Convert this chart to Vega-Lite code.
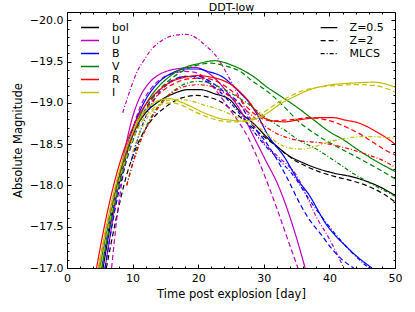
{
"$schema": "https://vega.github.io/schema/vega-lite/v6.json",
"width": 328, "height": 256,
"autosize": "none",
"padding": {"left": 67, "top": 12, "right": 20, "bottom": 44},
"config": {"font": "DejaVu Sans", "view": {"stroke": "black", "strokeWidth": 1}},
"data": {"values": [
{"t":5.5,"M":-17.0,"band":"bol","model":"Z=0.5"},{"t":7,"M":-17.68,"band":"bol","model":"Z=0.5"},{"t":8.5,"M":-18.2,"band":"bol","model":"Z=0.5"},{"t":10,"M":-18.6,"band":"bol","model":"Z=0.5"},{"t":12,"M":-18.88,"band":"bol","model":"Z=0.5"},{"t":13.7,"M":-19.0,"band":"bol","model":"Z=0.5"},{"t":16.2,"M":-19.11,"band":"bol","model":"Z=0.5"},{"t":18.5,"M":-19.16,"band":"bol","model":"Z=0.5"},{"t":20.3,"M":-19.16,"band":"bol","model":"Z=0.5"},{"t":22.5,"M":-19.11,"band":"bol","model":"Z=0.5"},{"t":24.8,"M":-19.04,"band":"bol","model":"Z=0.5"},{"t":26.5,"M":-18.88,"band":"bol","model":"Z=0.5"},{"t":28.7,"M":-18.73,"band":"bol","model":"Z=0.5"},{"t":30.5,"M":-18.58,"band":"bol","model":"Z=0.5"},{"t":32.2,"M":-18.46,"band":"bol","model":"Z=0.5"},{"t":34,"M":-18.35,"band":"bol","model":"Z=0.5"},{"t":35.8,"M":-18.28,"band":"bol","model":"Z=0.5"},{"t":38,"M":-18.21,"band":"bol","model":"Z=0.5"},{"t":40.6,"M":-18.15,"band":"bol","model":"Z=0.5"},{"t":43.7,"M":-18.1,"band":"bol","model":"Z=0.5"},{"t":46,"M":-18.04,"band":"bol","model":"Z=0.5"},{"t":48,"M":-17.97,"band":"bol","model":"Z=0.5"},{"t":50,"M":-17.88,"band":"bol","model":"Z=0.5"},
{"t":6.0,"M":-17.0,"band":"bol","model":"Z=2"},{"t":7.5,"M":-17.6,"band":"bol","model":"Z=2"},{"t":9,"M":-18.1,"band":"bol","model":"Z=2"},{"t":10.5,"M":-18.45,"band":"bol","model":"Z=2"},{"t":12.5,"M":-18.75,"band":"bol","model":"Z=2"},{"t":15.2,"M":-18.96,"band":"bol","model":"Z=2"},{"t":17.5,"M":-19.06,"band":"bol","model":"Z=2"},{"t":19.8,"M":-19.09,"band":"bol","model":"Z=2"},{"t":21.5,"M":-19.07,"band":"bol","model":"Z=2"},{"t":23.3,"M":-19.02,"band":"bol","model":"Z=2"},{"t":25.6,"M":-18.88,"band":"bol","model":"Z=2"},{"t":27.7,"M":-18.74,"band":"bol","model":"Z=2"},{"t":29.7,"M":-18.61,"band":"bol","model":"Z=2"},{"t":31.5,"M":-18.5,"band":"bol","model":"Z=2"},{"t":33.2,"M":-18.39,"band":"bol","model":"Z=2"},{"t":35,"M":-18.29,"band":"bol","model":"Z=2"},{"t":36.5,"M":-18.23,"band":"bol","model":"Z=2"},{"t":38.3,"M":-18.17,"band":"bol","model":"Z=2"},{"t":41.2,"M":-18.1,"band":"bol","model":"Z=2"},{"t":43.7,"M":-18.05,"band":"bol","model":"Z=2"},{"t":46.2,"M":-17.98,"band":"bol","model":"Z=2"},{"t":48.2,"M":-17.9,"band":"bol","model":"Z=2"},{"t":50,"M":-17.8,"band":"bol","model":"Z=2"},
{"t":5.8,"M":-17.0,"band":"U","model":"Z=0.5"},{"t":7,"M":-17.6,"band":"U","model":"Z=0.5"},{"t":8,"M":-18.1,"band":"U","model":"Z=0.5"},{"t":9,"M":-18.5,"band":"U","model":"Z=0.5"},{"t":10,"M":-18.83,"band":"U","model":"Z=0.5"},{"t":11,"M":-19.05,"band":"U","model":"Z=0.5"},{"t":12.5,"M":-19.24,"band":"U","model":"Z=0.5"},{"t":14,"M":-19.34,"band":"U","model":"Z=0.5"},{"t":15.5,"M":-19.39,"band":"U","model":"Z=0.5"},{"t":17.5,"M":-19.42,"band":"U","model":"Z=0.5"},{"t":19.5,"M":-19.43,"band":"U","model":"Z=0.5"},{"t":21,"M":-19.39,"band":"U","model":"Z=0.5"},{"t":22.5,"M":-19.3,"band":"U","model":"Z=0.5"},{"t":24.4,"M":-19.13,"band":"U","model":"Z=0.5"},{"t":26.5,"M":-18.9,"band":"U","model":"Z=0.5"},{"t":28.4,"M":-18.6,"band":"U","model":"Z=0.5"},{"t":30.3,"M":-18.3,"band":"U","model":"Z=0.5"},{"t":32.2,"M":-18.0,"band":"U","model":"Z=0.5"},{"t":33.5,"M":-17.73,"band":"U","model":"Z=0.5"},{"t":35,"M":-17.36,"band":"U","model":"Z=0.5"},{"t":36.3,"M":-17.0,"band":"U","model":"Z=0.5"},
{"t":6.8,"M":-17.0,"band":"U","model":"Z=2"},{"t":7.6,"M":-17.6,"band":"U","model":"Z=2"},{"t":8.6,"M":-18.15,"band":"U","model":"Z=2"},{"t":9.6,"M":-18.55,"band":"U","model":"Z=2"},{"t":11,"M":-18.92,"band":"U","model":"Z=2"},{"t":12.5,"M":-19.14,"band":"U","model":"Z=2"},{"t":14,"M":-19.27,"band":"U","model":"Z=2"},{"t":16,"M":-19.35,"band":"U","model":"Z=2"},{"t":18,"M":-19.38,"band":"U","model":"Z=2"},{"t":19.5,"M":-19.37,"band":"U","model":"Z=2"},{"t":21,"M":-19.3,"band":"U","model":"Z=2"},{"t":23,"M":-19.12,"band":"U","model":"Z=2"},{"t":25,"M":-18.9,"band":"U","model":"Z=2"},{"t":27.6,"M":-18.58,"band":"U","model":"Z=2"},{"t":29.2,"M":-18.3,"band":"U","model":"Z=2"},{"t":30.7,"M":-18.0,"band":"U","model":"Z=2"},{"t":32,"M":-17.72,"band":"U","model":"Z=2"},{"t":33.5,"M":-17.38,"band":"U","model":"Z=2"},{"t":35.2,"M":-17.0,"band":"U","model":"Z=2"},
{"t":8.5,"M":-18.88,"band":"U","model":"MLCS"},{"t":9.6,"M":-19.15,"band":"U","model":"MLCS"},{"t":10.7,"M":-19.38,"band":"U","model":"MLCS"},{"t":11.6,"M":-19.5,"band":"U","model":"MLCS"},{"t":12.7,"M":-19.63,"band":"U","model":"MLCS"},{"t":14.2,"M":-19.74,"band":"U","model":"MLCS"},{"t":16,"M":-19.81,"band":"U","model":"MLCS"},{"t":18.2,"M":-19.83,"band":"U","model":"MLCS"},{"t":20,"M":-19.77,"band":"U","model":"MLCS"},{"t":21.3,"M":-19.68,"band":"U","model":"MLCS"},{"t":22.4,"M":-19.6,"band":"U","model":"MLCS"},{"t":23.3,"M":-19.5,"band":"U","model":"MLCS"},{"t":24.8,"M":-19.29,"band":"U","model":"MLCS"},{"t":26.4,"M":-19.05,"band":"U","model":"MLCS"},{"t":28,"M":-18.8,"band":"U","model":"MLCS"},{"t":30,"M":-18.52,"band":"U","model":"MLCS"},{"t":32,"M":-18.36,"band":"U","model":"MLCS"},{"t":35,"M":-18.12,"band":"U","model":"MLCS"},{"t":38,"M":-17.62,"band":"U","model":"MLCS"},{"t":40,"M":-17.35,"band":"U","model":"MLCS"},{"t":42.2,"M":-17.0,"band":"U","model":"MLCS"},
{"t":5.3,"M":-17.0,"band":"B","model":"Z=0.5"},{"t":7,"M":-17.75,"band":"B","model":"Z=0.5"},{"t":8.5,"M":-18.28,"band":"B","model":"Z=0.5"},{"t":10,"M":-18.68,"band":"B","model":"Z=0.5"},{"t":12,"M":-19.04,"band":"B","model":"Z=0.5"},{"t":14,"M":-19.25,"band":"B","model":"Z=0.5"},{"t":16,"M":-19.36,"band":"B","model":"Z=0.5"},{"t":18,"M":-19.41,"band":"B","model":"Z=0.5"},{"t":20,"M":-19.41,"band":"B","model":"Z=0.5"},{"t":21.5,"M":-19.38,"band":"B","model":"Z=0.5"},{"t":23.8,"M":-19.31,"band":"B","model":"Z=0.5"},{"t":25.4,"M":-19.2,"band":"B","model":"Z=0.5"},{"t":26.4,"M":-19.12,"band":"B","model":"Z=0.5"},{"t":27.6,"M":-19.02,"band":"B","model":"Z=0.5"},{"t":28.9,"M":-18.87,"band":"B","model":"Z=0.5"},{"t":30.7,"M":-18.6,"band":"B","model":"Z=0.5"},{"t":33,"M":-18.36,"band":"B","model":"Z=0.5"},{"t":35.5,"M":-18.03,"band":"B","model":"Z=0.5"},{"t":36.6,"M":-17.92,"band":"B","model":"Z=0.5"},{"t":39.6,"M":-17.52,"band":"B","model":"Z=0.5"},{"t":42.7,"M":-17.25,"band":"B","model":"Z=0.5"},{"t":44.5,"M":-17.12,"band":"B","model":"Z=0.5"},{"t":46.5,"M":-17.0,"band":"B","model":"Z=0.5"},
{"t":5.8,"M":-17.0,"band":"B","model":"Z=2"},{"t":7.3,"M":-17.7,"band":"B","model":"Z=2"},{"t":8.8,"M":-18.22,"band":"B","model":"Z=2"},{"t":10.3,"M":-18.6,"band":"B","model":"Z=2"},{"t":12,"M":-18.93,"band":"B","model":"Z=2"},{"t":14,"M":-19.15,"band":"B","model":"Z=2"},{"t":16,"M":-19.27,"band":"B","model":"Z=2"},{"t":18,"M":-19.32,"band":"B","model":"Z=2"},{"t":20,"M":-19.32,"band":"B","model":"Z=2"},{"t":22,"M":-19.25,"band":"B","model":"Z=2"},{"t":24,"M":-19.13,"band":"B","model":"Z=2"},{"t":26.4,"M":-18.98,"band":"B","model":"Z=2"},{"t":28.2,"M":-18.74,"band":"B","model":"Z=2"},{"t":30,"M":-18.56,"band":"B","model":"Z=2"},{"t":31.5,"M":-18.38,"band":"B","model":"Z=2"},{"t":33.5,"M":-18.1,"band":"B","model":"Z=2"},{"t":35.5,"M":-17.78,"band":"B","model":"Z=2"},{"t":37,"M":-17.58,"band":"B","model":"Z=2"},{"t":38.6,"M":-17.42,"band":"B","model":"Z=2"},{"t":40.5,"M":-17.22,"band":"B","model":"Z=2"},{"t":41.7,"M":-17.12,"band":"B","model":"Z=2"},{"t":43.7,"M":-17.0,"band":"B","model":"Z=2"},
{"t":9.8,"M":-18.3,"band":"B","model":"MLCS"},{"t":11,"M":-18.62,"band":"B","model":"MLCS"},{"t":12.5,"M":-18.92,"band":"B","model":"MLCS"},{"t":14,"M":-19.12,"band":"B","model":"MLCS"},{"t":16,"M":-19.26,"band":"B","model":"MLCS"},{"t":18,"M":-19.32,"band":"B","model":"MLCS"},{"t":20,"M":-19.3,"band":"B","model":"MLCS"},{"t":22,"M":-19.22,"band":"B","model":"MLCS"},{"t":24,"M":-19.08,"band":"B","model":"MLCS"},{"t":26,"M":-18.9,"band":"B","model":"MLCS"},{"t":28,"M":-18.7,"band":"B","model":"MLCS"},{"t":30,"M":-18.5,"band":"B","model":"MLCS"},{"t":32.2,"M":-18.32,"band":"B","model":"MLCS"},{"t":34.5,"M":-18.12,"band":"B","model":"MLCS"},{"t":37,"M":-17.82,"band":"B","model":"MLCS"},{"t":39.5,"M":-17.55,"band":"B","model":"MLCS"},{"t":42.1,"M":-17.3,"band":"B","model":"MLCS"},{"t":44.7,"M":-17.09,"band":"B","model":"MLCS"},{"t":46,"M":-17.0,"band":"B","model":"MLCS"},
{"t":5.0,"M":-17.0,"band":"V","model":"Z=0.5"},{"t":6.5,"M":-17.6,"band":"V","model":"Z=0.5"},{"t":8,"M":-18.12,"band":"V","model":"Z=0.5"},{"t":10,"M":-18.62,"band":"V","model":"Z=0.5"},{"t":12,"M":-18.98,"band":"V","model":"Z=0.5"},{"t":14,"M":-19.2,"band":"V","model":"Z=0.5"},{"t":16,"M":-19.34,"band":"V","model":"Z=0.5"},{"t":18,"M":-19.43,"band":"V","model":"Z=0.5"},{"t":19.8,"M":-19.47,"band":"V","model":"Z=0.5"},{"t":22.5,"M":-19.51,"band":"V","model":"Z=0.5"},{"t":25.3,"M":-19.45,"band":"V","model":"Z=0.5"},{"t":28.4,"M":-19.32,"band":"V","model":"Z=0.5"},{"t":30.5,"M":-19.19,"band":"V","model":"Z=0.5"},{"t":32.2,"M":-19.1,"band":"V","model":"Z=0.5"},{"t":35,"M":-18.95,"band":"V","model":"Z=0.5"},{"t":37.5,"M":-18.8,"band":"V","model":"Z=0.5"},{"t":40,"M":-18.65,"band":"V","model":"Z=0.5"},{"t":42.2,"M":-18.55,"band":"V","model":"Z=0.5"},{"t":44,"M":-18.45,"band":"V","model":"Z=0.5"},{"t":47,"M":-18.3,"band":"V","model":"Z=0.5"},{"t":50,"M":-18.17,"band":"V","model":"Z=0.5"},
{"t":5.3,"M":-17.0,"band":"V","model":"Z=2"},{"t":6.8,"M":-17.6,"band":"V","model":"Z=2"},{"t":8.3,"M":-18.1,"band":"V","model":"Z=2"},{"t":10,"M":-18.55,"band":"V","model":"Z=2"},{"t":12,"M":-18.92,"band":"V","model":"Z=2"},{"t":14,"M":-19.15,"band":"V","model":"Z=2"},{"t":16,"M":-19.3,"band":"V","model":"Z=2"},{"t":18,"M":-19.4,"band":"V","model":"Z=2"},{"t":20,"M":-19.46,"band":"V","model":"Z=2"},{"t":22,"M":-19.48,"band":"V","model":"Z=2"},{"t":24,"M":-19.45,"band":"V","model":"Z=2"},{"t":26.4,"M":-19.38,"band":"V","model":"Z=2"},{"t":28.5,"M":-19.25,"band":"V","model":"Z=2"},{"t":30,"M":-19.17,"band":"V","model":"Z=2"},{"t":31.7,"M":-19.06,"band":"V","model":"Z=2"},{"t":33,"M":-18.96,"band":"V","model":"Z=2"},{"t":35.5,"M":-18.76,"band":"V","model":"Z=2"},{"t":38.3,"M":-18.6,"band":"V","model":"Z=2"},{"t":41.6,"M":-18.45,"band":"V","model":"Z=2"},{"t":44,"M":-18.35,"band":"V","model":"Z=2"},{"t":47,"M":-18.22,"band":"V","model":"Z=2"},{"t":50,"M":-18.08,"band":"V","model":"Z=2"},
{"t":9.1,"M":-18.0,"band":"V","model":"MLCS"},{"t":10.5,"M":-18.4,"band":"V","model":"MLCS"},{"t":12,"M":-18.7,"band":"V","model":"MLCS"},{"t":14,"M":-18.97,"band":"V","model":"MLCS"},{"t":16,"M":-19.13,"band":"V","model":"MLCS"},{"t":18,"M":-19.23,"band":"V","model":"MLCS"},{"t":20,"M":-19.26,"band":"V","model":"MLCS"},{"t":22,"M":-19.23,"band":"V","model":"MLCS"},{"t":24,"M":-19.16,"band":"V","model":"MLCS"},{"t":26,"M":-19.07,"band":"V","model":"MLCS"},{"t":27.4,"M":-19.0,"band":"V","model":"MLCS"},{"t":29,"M":-18.9,"band":"V","model":"MLCS"},{"t":30.7,"M":-18.8,"band":"V","model":"MLCS"},{"t":33,"M":-18.68,"band":"V","model":"MLCS"},{"t":35.5,"M":-18.54,"band":"V","model":"MLCS"},{"t":37.8,"M":-18.45,"band":"V","model":"MLCS"},{"t":39.6,"M":-18.36,"band":"V","model":"MLCS"},{"t":41.5,"M":-18.26,"band":"V","model":"MLCS"},{"t":43.7,"M":-18.14,"band":"V","model":"MLCS"},{"t":45.5,"M":-18.06,"band":"V","model":"MLCS"},{"t":47.3,"M":-17.98,"band":"V","model":"MLCS"},{"t":49.3,"M":-17.9,"band":"V","model":"MLCS"},{"t":50,"M":-17.87,"band":"V","model":"MLCS"},
{"t":4.5,"M":-17.0,"band":"R","model":"Z=0.5"},{"t":6,"M":-17.62,"band":"R","model":"Z=0.5"},{"t":7.5,"M":-18.12,"band":"R","model":"Z=0.5"},{"t":9,"M":-18.5,"band":"R","model":"Z=0.5"},{"t":10.5,"M":-18.78,"band":"R","model":"Z=0.5"},{"t":12,"M":-18.98,"band":"R","model":"Z=0.5"},{"t":14,"M":-19.15,"band":"R","model":"Z=0.5"},{"t":16,"M":-19.26,"band":"R","model":"Z=0.5"},{"t":18,"M":-19.31,"band":"R","model":"Z=0.5"},{"t":20,"M":-19.33,"band":"R","model":"Z=0.5"},{"t":22,"M":-19.31,"band":"R","model":"Z=0.5"},{"t":23.5,"M":-19.28,"band":"R","model":"Z=0.5"},{"t":25.4,"M":-19.2,"band":"R","model":"Z=0.5"},{"t":26.8,"M":-19.1,"band":"R","model":"Z=0.5"},{"t":27.9,"M":-19.0,"band":"R","model":"Z=0.5"},{"t":28.7,"M":-18.91,"band":"R","model":"Z=0.5"},{"t":29.6,"M":-18.84,"band":"R","model":"Z=0.5"},{"t":30.5,"M":-18.8,"band":"R","model":"Z=0.5"},{"t":31.5,"M":-18.78,"band":"R","model":"Z=0.5"},{"t":33.2,"M":-18.77,"band":"R","model":"Z=0.5"},{"t":35,"M":-18.79,"band":"R","model":"Z=0.5"},{"t":36.8,"M":-18.81,"band":"R","model":"Z=0.5"},{"t":38.5,"M":-18.82,"band":"R","model":"Z=0.5"},{"t":40.6,"M":-18.82,"band":"R","model":"Z=0.5"},{"t":42.5,"M":-18.79,"band":"R","model":"Z=0.5"},{"t":44.7,"M":-18.75,"band":"R","model":"Z=0.5"},{"t":46.5,"M":-18.68,"band":"R","model":"Z=0.5"},{"t":47.8,"M":-18.62,"band":"R","model":"Z=0.5"},{"t":49,"M":-18.56,"band":"R","model":"Z=0.5"},{"t":50,"M":-18.5,"band":"R","model":"Z=0.5"},
{"t":4.8,"M":-17.0,"band":"R","model":"Z=2"},{"t":6.3,"M":-17.6,"band":"R","model":"Z=2"},{"t":7.8,"M":-18.1,"band":"R","model":"Z=2"},{"t":9.3,"M":-18.47,"band":"R","model":"Z=2"},{"t":10.8,"M":-18.75,"band":"R","model":"Z=2"},{"t":12.5,"M":-18.97,"band":"R","model":"Z=2"},{"t":14.5,"M":-19.14,"band":"R","model":"Z=2"},{"t":16.5,"M":-19.24,"band":"R","model":"Z=2"},{"t":18.5,"M":-19.29,"band":"R","model":"Z=2"},{"t":20.5,"M":-19.3,"band":"R","model":"Z=2"},{"t":22.5,"M":-19.27,"band":"R","model":"Z=2"},{"t":24.5,"M":-19.18,"band":"R","model":"Z=2"},{"t":26,"M":-19.08,"band":"R","model":"Z=2"},{"t":27.3,"M":-18.96,"band":"R","model":"Z=2"},{"t":28.5,"M":-18.87,"band":"R","model":"Z=2"},{"t":30,"M":-18.8,"band":"R","model":"Z=2"},{"t":31.5,"M":-18.78,"band":"R","model":"Z=2"},{"t":33,"M":-18.79,"band":"R","model":"Z=2"},{"t":34.8,"M":-18.8,"band":"R","model":"Z=2"},{"t":36.5,"M":-18.82,"band":"R","model":"Z=2"},{"t":38.5,"M":-18.81,"band":"R","model":"Z=2"},{"t":40.6,"M":-18.77,"band":"R","model":"Z=2"},{"t":43,"M":-18.69,"band":"R","model":"Z=2"},{"t":44.5,"M":-18.63,"band":"R","model":"Z=2"},{"t":46.7,"M":-18.52,"band":"R","model":"Z=2"},{"t":48.5,"M":-18.43,"band":"R","model":"Z=2"},{"t":50,"M":-18.37,"band":"R","model":"Z=2"},
{"t":9.1,"M":-18.0,"band":"R","model":"MLCS"},{"t":10.5,"M":-18.38,"band":"R","model":"MLCS"},{"t":12,"M":-18.68,"band":"R","model":"MLCS"},{"t":14,"M":-18.95,"band":"R","model":"MLCS"},{"t":16,"M":-19.12,"band":"R","model":"MLCS"},{"t":18,"M":-19.2,"band":"R","model":"MLCS"},{"t":20,"M":-19.22,"band":"R","model":"MLCS"},{"t":22,"M":-19.2,"band":"R","model":"MLCS"},{"t":24,"M":-19.12,"band":"R","model":"MLCS"},{"t":26,"M":-19.0,"band":"R","model":"MLCS"},{"t":28,"M":-18.86,"band":"R","model":"MLCS"},{"t":30,"M":-18.73,"band":"R","model":"MLCS"},{"t":31.7,"M":-18.64,"band":"R","model":"MLCS"},{"t":33.5,"M":-18.58,"band":"R","model":"MLCS"},{"t":35.6,"M":-18.54,"band":"R","model":"MLCS"},{"t":38.3,"M":-18.52,"band":"R","model":"MLCS"},{"t":40.6,"M":-18.49,"band":"R","model":"MLCS"},{"t":43.1,"M":-18.44,"band":"R","model":"MLCS"},{"t":45.5,"M":-18.38,"band":"R","model":"MLCS"},{"t":48.2,"M":-18.3,"band":"R","model":"MLCS"},{"t":50,"M":-18.22,"band":"R","model":"MLCS"},
{"t":4.8,"M":-17.0,"band":"I","model":"Z=0.5"},{"t":6.3,"M":-17.62,"band":"I","model":"Z=0.5"},{"t":7.8,"M":-18.12,"band":"I","model":"Z=0.5"},{"t":9.3,"M":-18.5,"band":"I","model":"Z=0.5"},{"t":11,"M":-18.8,"band":"I","model":"Z=0.5"},{"t":12.5,"M":-18.95,"band":"I","model":"Z=0.5"},{"t":14,"M":-19.03,"band":"I","model":"Z=0.5"},{"t":15.7,"M":-19.05,"band":"I","model":"Z=0.5"},{"t":17,"M":-19.02,"band":"I","model":"Z=0.5"},{"t":18.8,"M":-18.96,"band":"I","model":"Z=0.5"},{"t":20.3,"M":-18.9,"band":"I","model":"Z=0.5"},{"t":21.8,"M":-18.85,"band":"I","model":"Z=0.5"},{"t":23.3,"M":-18.81,"band":"I","model":"Z=0.5"},{"t":25,"M":-18.79,"band":"I","model":"Z=0.5"},{"t":26.5,"M":-18.78,"band":"I","model":"Z=0.5"},{"t":28,"M":-18.79,"band":"I","model":"Z=0.5"},{"t":29.5,"M":-18.83,"band":"I","model":"Z=0.5"},{"t":31,"M":-18.9,"band":"I","model":"Z=0.5"},{"t":32.2,"M":-18.97,"band":"I","model":"Z=0.5"},{"t":33.5,"M":-19.03,"band":"I","model":"Z=0.5"},{"t":35.3,"M":-19.1,"band":"I","model":"Z=0.5"},{"t":37,"M":-19.16,"band":"I","model":"Z=0.5"},{"t":39.6,"M":-19.21,"band":"I","model":"Z=0.5"},{"t":43.6,"M":-19.24,"band":"I","model":"Z=0.5"},{"t":46.7,"M":-19.25,"band":"I","model":"Z=0.5"},{"t":48.5,"M":-19.23,"band":"I","model":"Z=0.5"},{"t":50,"M":-19.19,"band":"I","model":"Z=0.5"},
{"t":5.1,"M":-17.0,"band":"I","model":"Z=2"},{"t":6.6,"M":-17.6,"band":"I","model":"Z=2"},{"t":8.1,"M":-18.1,"band":"I","model":"Z=2"},{"t":9.6,"M":-18.47,"band":"I","model":"Z=2"},{"t":11.3,"M":-18.76,"band":"I","model":"Z=2"},{"t":12.8,"M":-18.91,"band":"I","model":"Z=2"},{"t":14.3,"M":-18.98,"band":"I","model":"Z=2"},{"t":16,"M":-19.0,"band":"I","model":"Z=2"},{"t":17.5,"M":-18.97,"band":"I","model":"Z=2"},{"t":19.3,"M":-18.9,"band":"I","model":"Z=2"},{"t":21,"M":-18.84,"band":"I","model":"Z=2"},{"t":23,"M":-18.79,"band":"I","model":"Z=2"},{"t":25,"M":-18.77,"band":"I","model":"Z=2"},{"t":26.5,"M":-18.77,"band":"I","model":"Z=2"},{"t":28,"M":-18.8,"band":"I","model":"Z=2"},{"t":29.5,"M":-18.86,"band":"I","model":"Z=2"},{"t":31,"M":-18.94,"band":"I","model":"Z=2"},{"t":32.5,"M":-19.02,"band":"I","model":"Z=2"},{"t":34,"M":-19.08,"band":"I","model":"Z=2"},{"t":36,"M":-19.15,"band":"I","model":"Z=2"},{"t":38.5,"M":-19.19,"band":"I","model":"Z=2"},{"t":41,"M":-19.21,"band":"I","model":"Z=2"},{"t":44,"M":-19.22,"band":"I","model":"Z=2"},{"t":47,"M":-19.21,"band":"I","model":"Z=2"},{"t":48.8,"M":-19.17,"band":"I","model":"Z=2"},{"t":50,"M":-19.13,"band":"I","model":"Z=2"},
{"t":10,"M":-18.4,"band":"I","model":"MLCS"},{"t":11,"M":-18.62,"band":"I","model":"MLCS"},{"t":12.5,"M":-18.85,"band":"I","model":"MLCS"},{"t":14,"M":-18.97,"band":"I","model":"MLCS"},{"t":15.5,"M":-19.03,"band":"I","model":"MLCS"},{"t":17.3,"M":-19.04,"band":"I","model":"MLCS"},{"t":19,"M":-19.02,"band":"I","model":"MLCS"},{"t":21,"M":-18.97,"band":"I","model":"MLCS"},{"t":22.8,"M":-18.93,"band":"I","model":"MLCS"},{"t":25,"M":-18.86,"band":"I","model":"MLCS"},{"t":26.9,"M":-18.79,"band":"I","model":"MLCS"},{"t":28.5,"M":-18.73,"band":"I","model":"MLCS"},{"t":30,"M":-18.66,"band":"I","model":"MLCS"},{"t":32,"M":-18.52,"band":"I","model":"MLCS"},{"t":34.2,"M":-18.45,"band":"I","model":"MLCS"},{"t":36,"M":-18.44,"band":"I","model":"MLCS"},{"t":37.8,"M":-18.47,"band":"I","model":"MLCS"},{"t":40.1,"M":-18.53,"band":"I","model":"MLCS"},{"t":42.5,"M":-18.57,"band":"I","model":"MLCS"},{"t":44.7,"M":-18.59,"band":"I","model":"MLCS"},{"t":47,"M":-18.59,"band":"I","model":"MLCS"},{"t":48.5,"M":-18.58,"band":"I","model":"MLCS"},{"t":50,"M":-18.57,"band":"I","model":"MLCS"}
]},
"layer": [
{"mark": {"type": "line", "strokeWidth": 1.2, "interpolate": "monotone", "clip": true},
 "encoding": {
  "x": {"field": "t", "type": "quantitative", "scale": {"domain": [0, 50], "nice": false, "zero": false},
    "axis": {"orient": "bottom", "values": [0,2,4,6,8,10,12,14,16,18,20,22,24,26,28,30,32,34,36,38,40,42,44,46,48,50],
      "labelExpr": "datum.value % 10 === 0 ? datum.label : ''",
      "tickSize": {"condition": {"test": "datum.value % 10 === 0", "value": -4}, "value": -2},
      "tickColor": "black", "tickWidth": 1, "domain": false, "grid": false, "labelFlush": false, "labelOverlap": false,
      "labelFontSize": 11, "labelColor": "black", "labelPadding": 8,
      "title": "Time post explosion [day]", "titleFontSize": 11.5, "titleFontWeight": "normal", "titleColor": "black", "titlePadding": 3}},
  "y": {"field": "M", "type": "quantitative", "scale": {"domain": [-17, -20.1], "nice": false, "zero": false},
    "axis": {"orient": "left", "values": [-20,-19.9,-19.8,-19.7,-19.6,-19.5,-19.4,-19.3,-19.2,-19.1,-19,-18.9,-18.8,-18.7,-18.6,-18.5,-18.4,-18.3,-18.2,-18.1,-18,-17.9,-17.8,-17.7,-17.6,-17.5,-17.4,-17.3,-17.2,-17.1,-17],
      "format": ".1f",
      "labelExpr": "abs(datum.value*2 - round(datum.value*2)) < 0.001 ? datum.label : ''",
      "tickSize": {"condition": {"test": "abs(datum.value*2 - round(datum.value*2)) < 0.001", "value": -4}, "value": -2},
      "tickColor": "black", "tickWidth": 1, "domain": false, "grid": false, "labelFlush": false, "labelOverlap": false,
      "labelFontSize": 11, "labelColor": "black", "labelPadding": 8,
      "title": "Absolute Magnitude", "titleFontSize": 11.5, "titleFontWeight": "normal", "titleColor": "black", "titlePadding": 6}},
  "color": {"field": "band", "type": "nominal",
    "scale": {"domain": ["bol","U","B","V","R","I"], "range": ["#000000","#bf00bf","#0000ff","#008000","#ff0000","#bfbf00"]},
    "legend": {"orient": "none", "legendX": 13, "legendY": 10, "title": null, "padding": 0, "symbolType": "stroke", "symbolSize": 324, "symbolStrokeWidth": 1.5, "clipHeight": 11.1, "rowPadding": 0, "labelOffset": 12, "labelFontSize": 11, "labelColor": "black"}},
  "strokeDash": {"field": "model", "type": "nominal",
    "scale": {"domain": ["Z=0.5","Z=2","MLCS"], "range": [[1,0],[5,3],[4,2,1,2]]},
    "legend": {"orient": "none", "legendX": 253, "legendY": 10, "title": null, "padding": 0, "symbolType": "stroke", "symbolSize": 279, "symbolStrokeWidth": 1.2, "symbolStrokeColor": "black", "clipHeight": 11.1, "rowPadding": 0, "labelOffset": 11.6, "labelFontSize": 11, "labelColor": "black"}}
 }},
{"mark": {"type": "point", "opacity": 0},
 "encoding": {
  "x": {"field": "t", "type": "quantitative", "scale": {"domain": [0, 50], "nice": false, "zero": false},
    "axis": {"orient": "top", "values": [0,2,4,6,8,10,12,14,16,18,20,22,24,26,28,30,32,34,36,38,40,42,44,46,48,50], "labels": false,
      "title": "DDT-low", "titleFontSize": 11, "titleFontWeight": "normal", "titleColor": "black", "titleBaseline": "alphabetic", "titleY": -1.5, "titleX": 164, "titleAlign": "center",
      "tickSize": {"condition": {"test": "datum.value % 10 === 0", "value": -4}, "value": -2}, "tickColor": "black", "domain": false, "grid": false}},
  "y": {"field": "M", "type": "quantitative", "scale": {"domain": [-17, -20.1], "nice": false, "zero": false},
    "axis": {"orient": "right", "values": [-20,-19.9,-19.8,-19.7,-19.6,-19.5,-19.4,-19.3,-19.2,-19.1,-19,-18.9,-18.8,-18.7,-18.6,-18.5,-18.4,-18.3,-18.2,-18.1,-18,-17.9,-17.8,-17.7,-17.6,-17.5,-17.4,-17.3,-17.2,-17.1,-17], "labels": false, "title": null,
      "tickSize": {"condition": {"test": "abs(datum.value*2 - round(datum.value*2)) < 0.001", "value": -4}, "value": -2}, "tickColor": "black", "domain": false, "grid": false}}
 }}
],
"resolve": {"axis": {"x": "independent", "y": "independent"}}
}
